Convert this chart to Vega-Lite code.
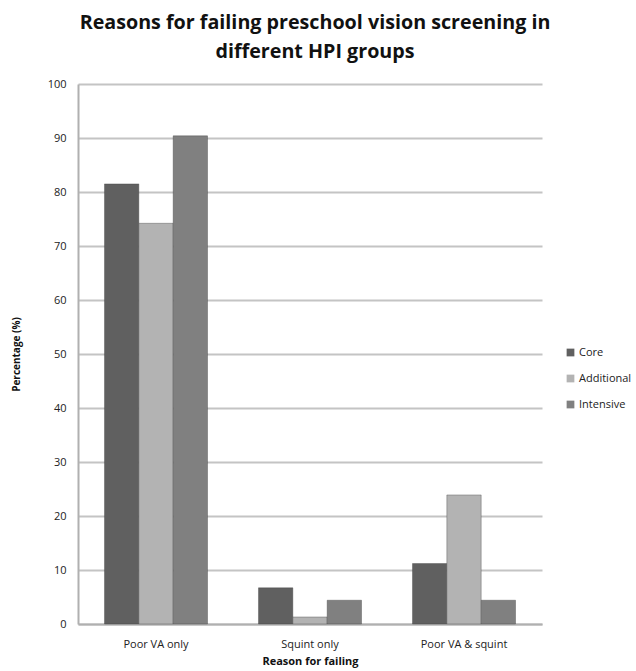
{
  "$schema": "https://vega.github.io/schema/vega-lite/v6.json",
  "width": 464,
  "height": 540,
  "autosize": {"type": "none"},
  "padding": {"left": 78, "top": 84, "right": 94, "bottom": 47},
  "background": "white",
  "title": {
    "text": ["Reasons for failing preschool vision screening in", "different HPI groups"],
    "font": "Open Sans",
    "fontSize": 19.7,
    "fontWeight": "bold",
    "color": "#111111",
    "anchor": "middle",
    "frame": "group",
    "dx": 5,
    "offset": 16,
    "lineHeight": 29
  },
  "data": {
    "values": [
      {"reason": "Poor VA only", "group": "Core", "value": 81.5},
      {"reason": "Poor VA only", "group": "Additional", "value": 74.2},
      {"reason": "Poor VA only", "group": "Intensive", "value": 90.4},
      {"reason": "Squint only", "group": "Core", "value": 6.7},
      {"reason": "Squint only", "group": "Additional", "value": 1.3},
      {"reason": "Squint only", "group": "Intensive", "value": 4.4},
      {"reason": "Poor VA & squint", "group": "Core", "value": 11.2},
      {"reason": "Poor VA & squint", "group": "Additional", "value": 23.9},
      {"reason": "Poor VA & squint", "group": "Intensive", "value": 4.4}
    ]
  },
  "mark": {"type": "bar", "stroke": "#3a3a3a", "strokeWidth": 0.6, "strokeOpacity": 0.6},
  "encoding": {
    "x": {
      "field": "reason",
      "type": "nominal",
      "sort": ["Poor VA only", "Squint only", "Poor VA & squint"],
      "scale": {"paddingInner": 0.331, "paddingOuter": 0.172},
      "axis": {
        "title": "Reason for failing",
        "titleFont": "Open Sans",
        "titleFontSize": 11,
        "titleFontWeight": "bold",
        "titleColor": "#111111",
        "titlePadding": 6,
        "labelAngle": 0,
        "labelFont": "Open Sans",
        "labelFontSize": 11,
        "labelColor": "#222222",
        "labelPadding": 14,
        "ticks": false,
        "domainColor": "#b0b0b0",
        "domainWidth": 2
      }
    },
    "xOffset": {
      "field": "group",
      "type": "nominal",
      "sort": ["Core", "Additional", "Intensive"],
      "scale": {"paddingInner": 0, "paddingOuter": 0}
    },
    "y": {
      "field": "value",
      "type": "quantitative",
      "scale": {"domain": [0, 100], "nice": false},
      "axis": {
        "title": "Percentage (%)",
        "titleFont": "Open Sans",
        "titleFontSize": 10,
        "titleFontWeight": "bold",
        "titleColor": "#111111",
        "titlePadding": 26,
        "values": [0, 10, 20, 30, 40, 50, 60, 70, 80, 90, 100],
        "labelFont": "Open Sans",
        "labelFontSize": 11,
        "labelColor": "#222222",
        "labelPadding": 12,
        "ticks": false,
        "grid": true,
        "gridColor": "#c4c4c4",
        "gridWidth": 2,
        "domainColor": "#b0b0b0",
        "domainWidth": 2
      }
    },
    "color": {
      "field": "group",
      "type": "nominal",
      "sort": ["Core", "Additional", "Intensive"],
      "scale": {"domain": ["Core", "Additional", "Intensive"], "range": ["#606060", "#b3b3b3", "#808080"]},
      "legend": {
        "title": null,
        "orient": "none",
        "legendX": 487,
        "legendY": 263,
        "symbolType": "square",
        "symbolSize": 60,
        "symbolStrokeWidth": 0,
        "labelFont": "Open Sans",
        "labelFontSize": 11,
        "labelColor": "#222222",
        "labelOffset": 3,
        "rowPadding": 14
      }
    }
  },
  "config": {"view": {"stroke": null}}
}
